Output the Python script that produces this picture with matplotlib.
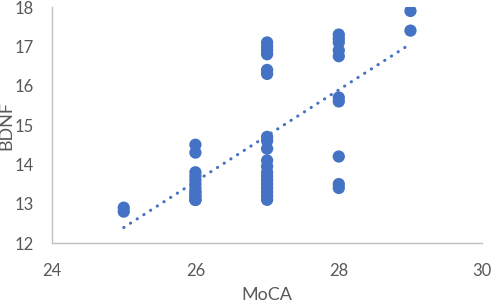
import numpy as np
import matplotlib
matplotlib.use('Agg')
import matplotlib.pyplot as plt

plt.rcParams['font.family'] = ['Lato', 'DejaVu Sans']

# MoCA / BDNF scatter values (overlapping points repeat)
moca_25 = [12.9, 12.8]
moca_26 = [14.5, 14.3, 13.8, 13.7, 13.6, 13.5, 13.4, 13.3, 13.3, 13.2, 13.2, 13.1, 13.1, 13.1]
moca_27 = [17.1, 17.0, 16.9, 16.8, 16.4, 16.3,
           14.7, 14.6, 14.4, 14.1, 13.95, 13.8, 13.7, 13.6, 13.5, 13.4, 13.3, 13.2, 13.1]
moca_28 = [17.3, 17.2, 17.1, 16.9, 16.75, 15.7, 15.6, 14.2, 13.5, 13.4]
moca_29 = [17.9, 17.4]

groups = {25: moca_25, 26: moca_26, 27: moca_27, 28: moca_28, 29: moca_29}
x_ticks = [24, 26, 28, 30]
y_ticks = [12, 13, 14, 15, 16, 17, 18]

x = np.concatenate([[k] * len(v) for k, v in groups.items()]).astype(float)
y = np.concatenate([v for v in groups.values()])

blue = '#4472C4'
grey = '#595959'

fig = plt.figure(figsize=(4.91, 3.05), dpi=100)
ax = fig.add_axes([0.106, 0.203, 0.876, 0.774])

ax.scatter(x, y, s=78, color=blue, edgecolors='none', zorder=3)

# linear trendline
k, b = np.polyfit(x, y, 1)
xs = np.array([x.min(), x.max()])
ax.plot(xs, k * xs + b, color=blue, linewidth=2.2, dashes=(0.1, 2.5),
        dash_capstyle='round', zorder=2)

ax.set_xlim(24, 30)
ax.set_ylim(12, 18)
ax.set_xticks(x_ticks)
ax.set_yticks(y_ticks)
ax.tick_params(length=0, labelsize=12, colors=grey)
ax.tick_params(axis='x', pad=14)
ax.tick_params(axis='y', pad=13)

for s in ['top', 'right']:
    ax.spines[s].set_visible(False)
for s in ['left', 'bottom']:
    ax.spines[s].set_color('#bfbfbf')
    ax.spines[s].set_linewidth(1.0)

ax.set_xlabel('MoCA', fontsize=13, color=grey, labelpad=6)
ax.set_ylabel('BDNF', fontsize=13, color=grey, labelpad=0)

fig.savefig('out.png', dpi=100)
